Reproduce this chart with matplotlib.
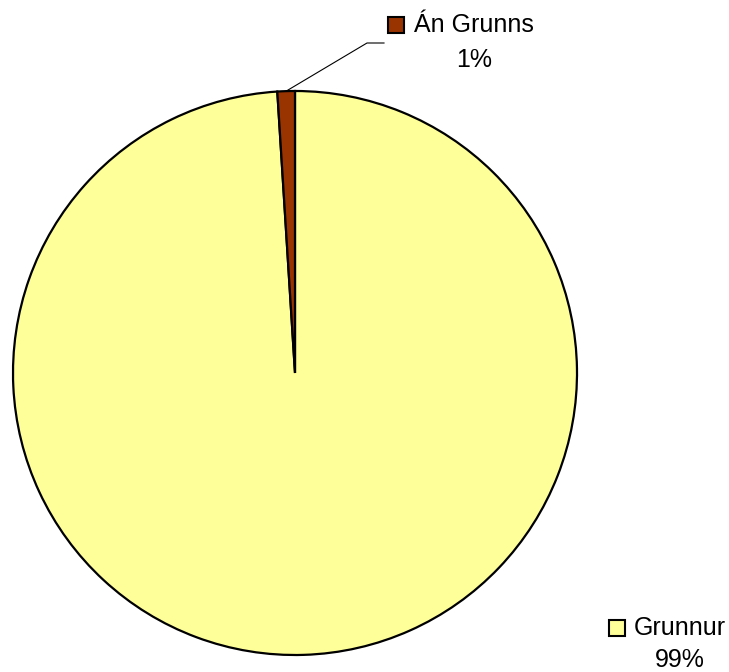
import numpy as np
import matplotlib
matplotlib.use("Agg")
import matplotlib.pyplot as plt
from matplotlib.patches import Rectangle

# data
labels = ["Grunnur", "Án Grunns"]
values = [99, 1]
colors = ["#FFFF99", "#993300"]

W, H = 729, 672
plt.rcParams['font.family'] = ['Liberation Sans', 'DejaVu Sans']

def px(x, y):
    # pixel (from top-left) -> figure fraction
    return x / W, 1 - y / H

fig = plt.figure(figsize=(W / 100, H / 100), dpi=100)
cx, cy, r = 295, 373, 282
ax = fig.add_axes([(cx - r) / W, (H - cy - r) / H, 2 * r / W, 2 * r / H])
wedges, _ = ax.pie(values, colors=colors, startangle=90, counterclock=False,
                   wedgeprops=dict(edgecolor="black", linewidth=1.6))
ax.set_xlim(-1, 1)
ax.set_ylim(-1, 1)
ax.set_aspect("equal")
ax.axis("off")

# leader line for the small slice
w = wedges[1]
mid = np.deg2rad((w.theta1 + w.theta2) / 2)
x0, y0 = np.cos(mid), np.sin(mid)
sx, sy = ax.transData.transform((x0, y0))
start = (sx / W, sy / H)
elbow = px(367, 43)
end = px(384, 43)
fig.add_artist(plt.Line2D([start[0], elbow[0], end[0]], [start[1], elbow[1], end[1]],
                          transform=fig.transFigure, color="black", linewidth=0.8))

# labels with legend-style keys
pcts = ["%d%%" % v for v in values]
label_pos = [(680, 628, 660, 609, 620), (474, 25, 60, 388, 17)]
for i, (tx, ty, py, kx, ky) in enumerate(label_pos):
    fig.text(*px(tx, ty), labels[i], ha="center", va="center", fontsize=18)
    fig.text(*px(tx, py), pcts[i], ha="center", va="center", fontsize=18)
    kx0, ky0 = px(kx, ky + 16)
    fig.add_artist(Rectangle((kx0, ky0), 16 / W, 16 / H, transform=fig.transFigure,
                             facecolor=colors[i], edgecolor="black", linewidth=1.5))

fig.savefig("out.png", dpi=100)
